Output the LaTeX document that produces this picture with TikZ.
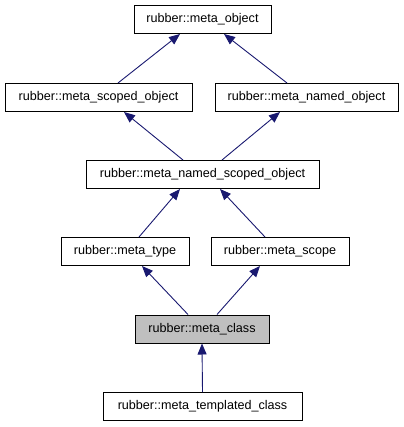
\documentclass[tikz,border=0pt]{standalone}
\usepackage{fontspec}
\setmainfont{Liberation Sans}
\usetikzlibrary{arrows.meta}
\definecolor{edgeblue}{HTML}{191970}
\definecolor{nodegrey}{HTML}{BFBFBF}
\begin{document}
\begin{tikzpicture}[x=1pt,y=-1pt,
  cls/.style={draw=black,line width=1pt,rectangle,inner sep=0pt,minimum height=28pt,
    font=\fontsize{12.6}{15}\selectfont,fill=white},
  edge/.style={draw=edgeblue,line width=0.9pt,-{Triangle[length=11pt,width=9pt]}}]
\useasboundingbox (0,0) rectangle (403,427);
\node[cls,minimum width=137pt] (n1) at (202.5,19.5) {rubber::meta\_object};
\node[cls,minimum width=187pt] (n2) at (98.5,97.5) {rubber::meta\_scoped\_object};
\node[cls,minimum width=183pt] (n3) at (306.5,97.5) {rubber::meta\_named\_object};
\node[cls,minimum width=233pt] (n4) at (202.5,174.5) {rubber::meta\_named\_scoped\_object};
\node[cls,minimum width=128pt] (n5) at (125,251.5) {rubber::meta\_type};
\node[cls,minimum width=138pt] (n6) at (280,251.5) {rubber::meta\_scope};
\node[cls,minimum width=134pt,fill=nodegrey] (n7) at (202,329) {rubber::meta\_class};
\node[cls,minimum width=199pt] (n8) at (202.5,406.5) {rubber::meta\_templated\_class};
\draw[edge] ([xshift=19.5pt]n2.north) -- ([xshift=-22.5pt]n1.south);
\draw[edge] ([xshift=-19.5pt]n3.north) -- ([xshift=21.5pt]n1.south);
\draw[edge] ([xshift=-19.5pt]n4.north) -- ([xshift=25.5pt]n2.south);
\draw[edge] ([xshift=19.5pt]n4.north) -- ([xshift=-26.5pt]n3.south);
\draw[edge] ([xshift=14pt]n5.north) -- ([xshift=-22.5pt]n4.south);
\draw[edge] ([xshift=-15pt]n6.north) -- ([xshift=17.5pt]n4.south);
\draw[edge] ([xshift=-14pt]n7.north) -- ([xshift=17pt]n5.south);
\draw[edge] ([xshift=15pt]n7.north) -- ([xshift=-20pt]n6.south);
\draw[edge] (n8.north) -- (n7.south);
\end{tikzpicture}
\end{document}
